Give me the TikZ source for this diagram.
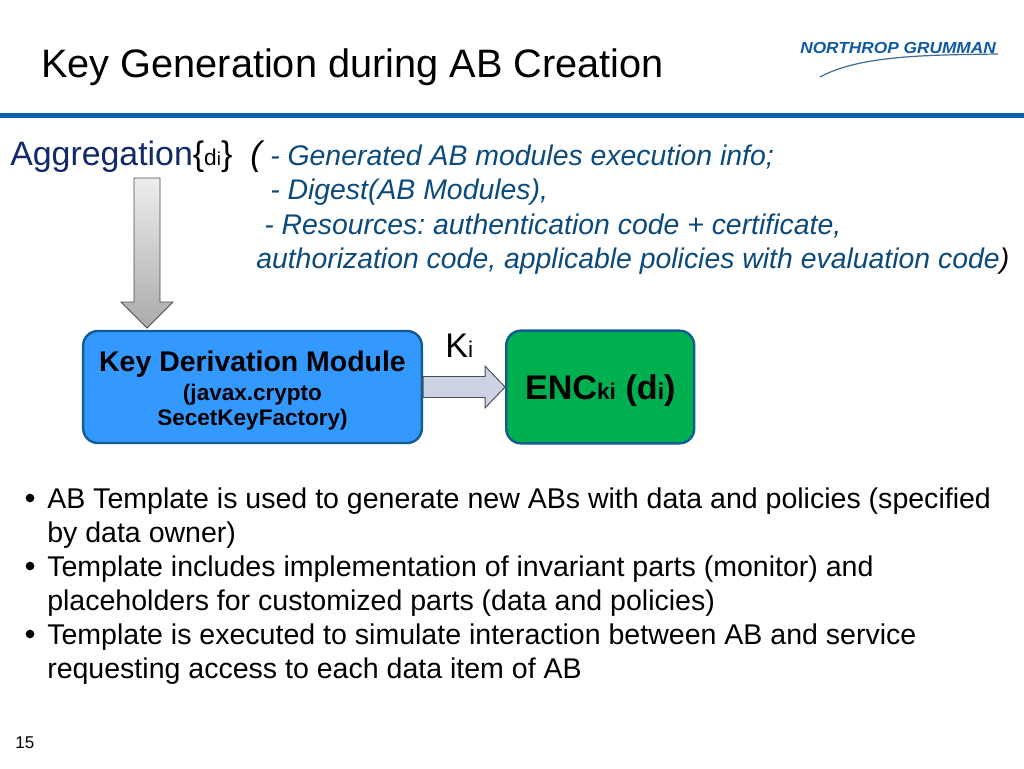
\documentclass[tikz,border=0pt]{standalone}
\usepackage{fontspec}
\setmainfont{Liberation Sans}
\usepackage{xcolor}
\usetikzlibrary{positioning,calc}
\definecolor{headblue}{HTML}{0A5FAE}
\definecolor{navy}{HTML}{12296B}
\definecolor{tealblue}{HTML}{0B4A7C}
\definecolor{logoblue}{HTML}{0F5AA5}
\definecolor{boxblue}{HTML}{3399FF}
\definecolor{boxgreen}{HTML}{00B050}
\definecolor{boxline}{HTML}{125C94}
\definecolor{flowfill}{HTML}{CDD3E4}
\newcommand{\sz}[1]{\fontsize{#1}{#1}\selectfont}
\frenchspacing
\tikzset{
    line/.style={
        anchor=base west,
        inner sep=0pt
    },
    proc/.style={
        rectangle,
        draw=boxline,
        line width=1.8pt,
        rounded corners=11pt,
        text centered,
        inner sep=0pt
    },
    flow/.style={
        draw=black!70,
        line width=0.7pt
    }
}
\begin{document}
\begin{tikzpicture}[x=0.75pt,y=-0.75pt]
    \useasboundingbox (0,0) rectangle (1024,768);
    % header
    \node (title) [line] at (41,77) {\sz{29.78}Key Generation during AB Creation};
    \node (logo) [anchor=base west,inner sep=0pt,xscale=1.08] at (800,53) {\sz{12}\bfseries\itshape\color{logoblue}NORTHROP GRUMMAN};
    \draw [logoblue!60!gray,line width=0.9pt] (820,77) .. controls (860,55) and (930,55) .. (998,54);
    \fill [headblue] (0,112.5) rectangle (1024,118);
    % aggregation text
    \node (aggr) [line,text=navy] at (10,165) {\sz{25.4}Aggregation\color{black}\{\sz{17.07}d\sz{14}i\sz{25.6}\}};
    \node (open) [line] at (250,165) {\sz{25.6}\itshape (};
    \node (info) [line,text=tealblue] at (270,165) {\sz{21.3}\itshape - Generated AB modules execution info;};
    \node (digest) [line,text=tealblue] at (270,199) {\sz{21.3}\itshape - Digest(AB Modules),};
    \node (res) [line,text=tealblue] at (264,234) {\sz{21.3}\itshape - Resources: authentication code + certificate,};
    \node (auth) [line,text=tealblue] at (256,268) {\sz{21.3}\itshape authorization code, applicable policies with evaluation code\color{black})};
    % modules
    \node (key) [proc,fill=boxblue,minimum width=254pt,minimum height=84pt,align=center] at (252.5,387) {\rule{0pt}{21pt}\sz{21.33}\bfseries Key Derivation Module\\[4pt]\sz{16.9}\bfseries (javax.crypto\\[2.5pt]\sz{16.9}\bfseries SecetKeyFactory)};
    \node (enc) [proc,fill=boxgreen,minimum width=141pt,minimum height=84.5pt,right=61.5pt of key] {\raisebox{-9.5pt}[0pt][0pt]{\sz{25.6}\bfseries ENC\sz{17.07}ki\sz{25.6} (d\sz{17.07}i\sz{25.6})}};
    \node (ki) [line] at (445,357) {\sz{25.6}K\sz{17.07}i};
    \coordinate (tail) at (147,178);
    \coordinate (tip) at (147,328);
    \draw [flow,top color=black!7,bottom color=black!33] ($(tail)+(-13,0)$) -- ($(tail)+(13,0)$) -- ($(tip)+(13,-26)$) -- ($(tip)+(26,-26)$) -- (tip) -- ($(tip)+(-26,-26)$) -- ($(tip)+(-13,-26)$) -- cycle;
    \draw [flow,fill=flowfill] ($(key.east)+(0,-10.5)$) -- ($(enc.west)+(-20,-10.5)$) -- ($(enc.west)+(-20,-21)$) -- (enc.west) -- ($(enc.west)+(-20,21)$) -- ($(enc.west)+(-20,10.5)$) -- ($(key.east)+(0,10.5)$) -- cycle;
    % bullets
    \node (dota) [circle,fill=black,inner sep=0pt,minimum size=6.5pt] at (30,498) {};
    \node (dotb) [circle,fill=black,inner sep=0pt,minimum size=6.5pt] at (30,566) {};
    \node (dotc) [circle,fill=black,inner sep=0pt,minimum size=6.5pt] at (30,634) {};
    \node (texta) [line] at (47,508) {\sz{21.4}AB Template is used to generate new ABs with data and policies (specified};
    \node (textb) [line] at (47,542) {\sz{21.4}by data owner)};
    \node (textc) [line] at (47,576) {\sz{21.4}Template includes implementation of invariant parts (monitor) and};
    \node (textd) [line] at (47,610) {\sz{21.4}placeholders for customized parts (data and policies)};
    \node (texte) [line] at (47,644) {\sz{21.4}Template is executed to simulate interaction between AB and service};
    \node (textf) [line] at (47,678) {\sz{21.4}requesting access to each data item of AB};
    \node (page) [line] at (15,748) {\sz{12.8}15};
\end{tikzpicture}
\end{document}
